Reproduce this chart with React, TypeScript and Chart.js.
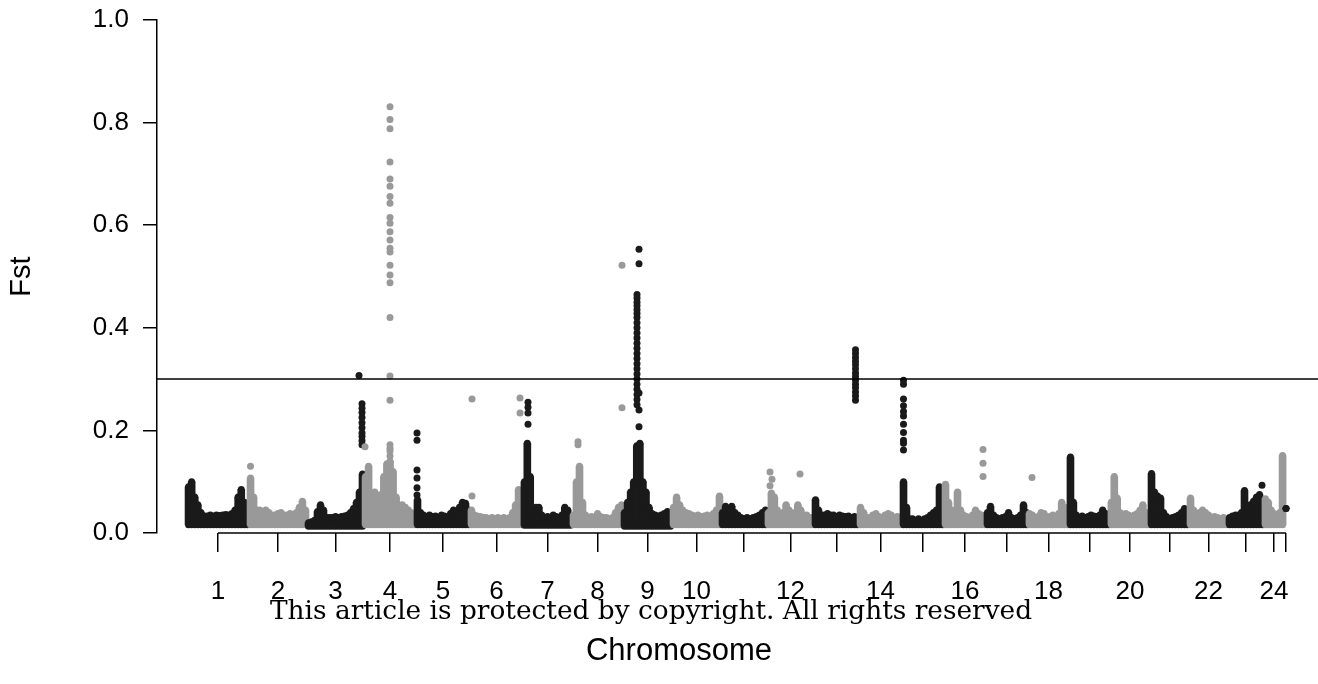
import React, { useEffect, useRef } from 'react';
import { Chart, registerables } from 'chart.js';

Chart.register(...registerables);

// ---------- DATA ----------
// Chromosome lengths on the cumulative x axis (Mb-like units)
const chromosomeLengths = [62, 58, 57, 52, 54, 53, 49, 51, 49, 49, 46, 47, 45, 43, 42, 42, 42, 41, 41, 40, 39, 39, 36, 20, 4];
// Tick labels under each chromosome midpoint (R drops overlapping ones)
const tickLabels = ['1', '2', '3', '4', '5', '6', '7', '8', '9', '10', '', '12', '', '14', '', '16', '', '18', '', '20', '', '22', '', '24', ''];
const yTickValues = [0, 0.2, 0.4, 0.6, 0.8, 1.0];
const threshold = 0.3;

// Lowest Fst (x1000) of the dense SNP band per chromosome
const bandFloor = [16, 16, 13, 16, 16, 16, 15, 16, 13, 16, 16, 16, 16, 16, 16, 16, 16, 16, 16, 16, 16, 16, 16, 16, 48];

// Highest Fst (x1000) of the dense SNP band, window by window along each chromosome
const chr1Band = [90, 100, 70, 55, 40, 33, 33, 35, 33, 35, 34, 35, 36, 35, 38, 45, 70, 85, 60, 45];
const chr2Band = [107, 70, 45, 45, 42, 45, 40, 35, 35, 38, 40, 35, 35, 38, 33, 40, 50, 62, 45];
const chr3Band = [20, 22, 25, 42, 55, 45, 30, 30, 30, 32, 30, 32, 33, 35, 40, 48, 60, 80, 115];
const chr4Band = [110, 130, 75, 80, 70, 75, 110, 135, 140, 120, 70, 50, 55, 50, 45, 40, 30];
const chr5Band = [65, 40, 35, 32, 35, 32, 33, 30, 35, 33, 30, 38, 45, 40, 50, 60, 58, 45];
const chr6Band = [45, 35, 33, 32, 30, 30, 28, 30, 28, 30, 28, 30, 28, 30, 40, 55, 85, 60];
const chr7Band = [100, 175, 110, 40, 50, 50, 35, 30, 32, 30, 35, 32, 30, 35, 50, 45, 30];
const chr8Band = [35, 100, 130, 60, 35, 30, 32, 30, 38, 32, 30, 30, 28, 30, 40, 50, 55];
const chr9Band = [40, 60, 80, 100, 170, 175, 100, 80, 50, 38, 35, 33, 35, 38, 42, 35];
const chr10Band = [50, 70, 55, 45, 40, 38, 35, 33, 35, 32, 33, 35, 32, 38, 45, 72];
const chr11Band = [40, 52, 45, 52, 40, 35, 30, 28, 30, 28, 30, 32, 35, 40, 45];
const chr12Band = [40, 78, 70, 45, 35, 40, 55, 45, 35, 40, 55, 45, 35, 35, 30, 30];
const chr13Band = [65, 45, 35, 35, 38, 35, 35, 32, 35, 33, 32, 33, 30, 32, 30];
const chr14Band = [50, 40, 30, 30, 35, 38, 32, 30, 35, 38, 35, 30, 32, 30];
const chr15Band = [100, 50, 28, 28, 25, 28, 25, 28, 30, 35, 40, 45, 90, 70];
const chr16Band = [95, 60, 45, 40, 80, 45, 35, 32, 30, 35, 45, 38, 35, 30];
const chr17Band = [40, 52, 35, 30, 28, 30, 32, 40, 30, 28, 30, 35, 55, 40];
const chr18Band = [38, 35, 30, 32, 40, 38, 30, 32, 35, 32, 38, 60, 50, 35];
const chr19Band = [148, 60, 35, 30, 33, 30, 32, 35, 33, 32, 35, 45, 38, 35];
const chr20Band = [60, 110, 68, 40, 35, 38, 35, 32, 35, 38, 45, 55, 40, 35];
const chr21Band = [116, 80, 72, 68, 40, 32, 28, 30, 32, 35, 40, 48, 35];
const chr22Band = [68, 45, 38, 40, 45, 40, 35, 30, 32, 30, 28, 30, 25];
const chr23Band = [30, 33, 35, 35, 40, 83, 50, 55, 62, 70, 75, 65];
const chr24Band = [67, 60, 45, 38, 35, 40, 151];
const chr25Band = [48];

// Isolated SNPs above the band: [position within chromosome, Fst x1000 values]
const chr2Outliers: [number, number[]][] = [[1.5, [130]]];
const chr3Outliers: [number, number[]][] = [[55, [252, 243, 235, 225, 215, 205, 195, 188, 180, 172]], [52, [307]]];
const chr4Outliers: [number, number[]][] = [
  [26, [831, 806, 788, 723, 690, 676, 656, 643, 615, 604, 587, 571, 555, 548, 522, 503, 488, 420, 306, 259, 172, 165, 160, 150]],
  [1, [168]],
];
const chr5Outliers: [number, number[]][] = [[1, [195, 181, 123, 107, 88, 74]]];
const chr6Outliers: [number, number[]][] = [[2, [261, 72]], [50, [263, 234]]];
const chr7Outliers: [number, number[]][] = [[5, [255, 245, 234, 212]]];
const chr8Outliers: [number, number[]][] = [[6, [178, 172]], [50, [522, 244]]];
const chr9Outliers: [number, number[]][] = [
  [14, [465, 458, 450, 443, 435, 428, 420, 410, 400, 390, 380, 370, 360, 350, 340, 330, 320, 310, 300, 290, 280, 270, 260, 250]],
  [16, [553, 525, 273, 240, 207]],
];
const chr12Outliers: [number, number[]][] = [[3, [119, 92]], [5, [105]], [33, [115]]];
const chr13Outliers: [number, number[]][] = [[41.5, [357, 350, 342, 335, 328, 320, 312, 305, 298, 290, 283, 275, 267, 259]]];
const chr15Outliers: [number, number[]][] = [[1.5, [298, 290, 261, 248, 237, 228, 212, 196, 181, 175, 162]]];
const chr16Outliers: [number, number[]][] = [[39, [163, 136, 110]]];
const chr18Outliers: [number, number[]][] = [[4, [108]]];
const chr23Outliers: [number, number[]][] = [[34, [93]]];

const bandMaxByChrom = [chr1Band, chr2Band, chr3Band, chr4Band, chr5Band, chr6Band, chr7Band, chr8Band, chr9Band, chr10Band,
  chr11Band, chr12Band, chr13Band, chr14Band, chr15Band, chr16Band, chr17Band, chr18Band, chr19Band, chr20Band,
  chr21Band, chr22Band, chr23Band, chr24Band, chr25Band];
const outliersByChrom: Record<number, [number, number[]][]> = {
  1: chr2Outliers, 2: chr3Outliers, 3: chr4Outliers, 4: chr5Outliers, 5: chr6Outliers, 6: chr7Outliers,
  7: chr8Outliers, 8: chr9Outliers, 11: chr12Outliers, 12: chr13Outliers, 14: chr15Outliers, 15: chr16Outliers,
  17: chr18Outliers, 22: chr23Outliers,
};

// ---------- STYLE ----------
const BLACK = '#1a1a1a';
const GRAY = '#999999';
const SANS = '"Liberation Sans", Arial, Helvetica, sans-serif';

function chromStarts(): number[] {
  const s: number[] = [];
  let acc = 0;
  chromosomeLengths.forEach((l) => { s.push(acc); acc += l; });
  return s;
}

function buildDatasets() {
  const starts = chromStarts();
  const datasets: any[] = [];
  chromosomeLengths.forEach((len, c) => {
    const color = c % 2 === 0 ? BLACK : GRAY;
    const maxes = bandMaxByChrom[c];
    const lo = bandFloor[c] / 1000;
    const n = maxes.length;
    const bars = maxes.map((m, i) => ({ x: starts[c] + ((i + 0.5) * len) / n, y: [lo, m / 1000] }));
    const pts: { x: number; y: number }[] = [];
    bars.forEach((b) => {
      pts.push({ x: b.x, y: b.y[0] });
      pts.push({ x: b.x, y: b.y[1] });
    });
    (outliersByChrom[c] || []).forEach(([pos, vals]) => {
      vals.forEach((v) => pts.push({ x: starts[c] + pos, y: v / 1000 }));
    });
    const order = 1000 - c * 10;
    datasets.push({
      type: 'bar',
      data: bars,
      backgroundColor: color,
      borderWidth: 0,
      barThickness: 7,
      grouped: false,
      order,
    });
    datasets.push({
      type: 'scatter',
      data: pts,
      backgroundColor: color,
      borderWidth: 0,
      pointRadius: 3.5,
      pointBorderWidth: 0,
      order: order - 1,
    });
  });
  return datasets;
}

function tickPositions(): number[] {
  const starts = chromStarts();
  return chromosomeLengths.map((l, i) => starts[i] + l / 2);
}

const decorPlugin = {
  id: 'decor',
  afterDatasetsDraw(chart: any) {
    const { ctx, chartArea, scales } = chart;
    const ticks = tickPositions();
    ctx.save();
    ctx.strokeStyle = '#000';
    ctx.lineWidth = 1.5;
    const y = scales.y.getPixelForValue(threshold);
    ctx.beginPath();
    ctx.moveTo(chartArea.left, y);
    ctx.lineTo(chartArea.right, y);
    ctx.stroke();
    const x0 = scales.x.getPixelForValue(ticks[0]);
    const x1 = scales.x.getPixelForValue(ticks[ticks.length - 1]);
    ctx.beginPath();
    ctx.moveTo(x0, chartArea.bottom);
    ctx.lineTo(x1, chartArea.bottom);
    ctx.stroke();
    ctx.restore();
  },
  afterDraw(chart: any) {
    const { ctx } = chart;
    ctx.save();
    ctx.fillStyle = '#000';
    ctx.font = `31px ${SANS}`;
    ctx.textAlign = 'center';
    ctx.textBaseline = 'middle';
    ctx.fillText('Chromosome', 679, 651);
    ctx.font = '26.4px "DejaVu Serif", serif';
    ctx.textAlign = 'left';
    ctx.textBaseline = 'alphabetic';
    ctx.fillText('This article is protected by copyright. All rights reserved', 270, 619);
    ctx.restore();
  },
};

export default function App() {
  const ref = useRef<HTMLCanvasElement>(null);
  useEffect(() => {
    const ticks = tickPositions();
    const chart = new Chart(ref.current as HTMLCanvasElement, {
      type: 'bar',
      data: { datasets: buildDatasets() },
      options: {
        animation: false,
        responsive: false,
        events: [],
        layout: { autoPadding: false, padding: { top: 20, right: 0, left: 0, bottom: 0 } },
        plugins: { legend: { display: false }, tooltip: { enabled: false } },
        scales: {
          x: {
            type: 'linear',
            min: -30,
            max: 1131,
            offset: false,
            border: { display: false },
            grid: {
              offset: false,
              drawOnChartArea: false,
              drawTicks: true,
              tickLength: 19,
              tickColor: '#000',
              tickWidth: 1.5,
              color: '#000',
              lineWidth: 1.5,
            },
            afterBuildTicks: (scale: any) => {
              scale.ticks = ticks.map((v) => ({ value: v }));
            },
            afterFit: (scale: any) => {
              scale.height = 151;
              scale.paddingLeft = 0;
              scale.paddingRight = 0;
            },
            ticks: {
              autoSkip: false,
              maxRotation: 0,
              minRotation: 0,
              padding: 24,
              color: '#000',
              font: { family: SANS, size: 26 },
              callback: (_v: any, i: number) => tickLabels[i],
            },
          },
          y: {
            type: 'linear',
            min: 0,
            max: 1,
            border: { display: true, color: '#000', width: 1.5 },
            grid: {
              drawOnChartArea: false,
              drawTicks: true,
              tickLength: 14,
              tickColor: '#000',
              tickWidth: 1.5,
              color: '#000',
              lineWidth: 1.5,
            },
            afterBuildTicks: (scale: any) => {
              scale.ticks = yTickValues.map((v) => ({ value: v }));
            },
            afterFit: (scale: any) => {
              scale.width = 157;
              scale.paddingTop = 0;
              scale.paddingBottom = 0;
            },
            ticks: {
              padding: 14,
              color: '#000',
              font: { family: SANS, size: 26 },
              callback: (v: any) => Number(v).toFixed(1),
            },
            title: {
              display: true,
              text: 'Fst',
              color: '#000',
              font: { family: SANS, size: 29 },
              padding: { top: 5, bottom: 0 },
            },
          },
        },
      } as any,
      plugins: [decorPlugin],
    });
    return () => chart.destroy();
  }, []);
  return (
    <div style={{ position: 'absolute', left: 0, top: 0, width: 1318, height: 684, background: '#fff' }}>
      <canvas ref={ref} width={1318} height={684} style={{ display: 'block', width: 1318, height: 684 }} />
    </div>
  );
}
